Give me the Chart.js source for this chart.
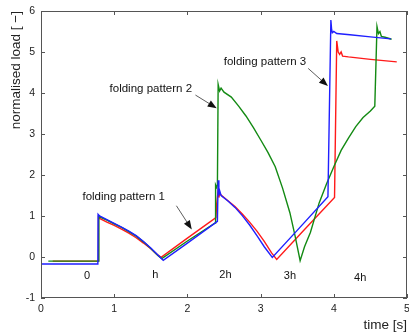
<!DOCTYPE html>
<html>
<head>
<meta charset="utf-8">
<script src="https://cdn.jsdelivr.net/npm/chart.js@4"></script>
<style>
  html, body { margin: 0; padding: 0; background: #fff; }
  canvas { display: block; }
</style>
</head>
<body>
<canvas id="chart" width="409" height="334"></canvas>
<script>
// axis ticks
const xTicks = [0, 1, 2, 3, 4, 5];
const yTicks = [-1, 0, 1, 2, 3, 4, 5, 6];

// folding pattern 3 (blue)
const blueT = [0, 0.777, 0.78, 0.8, 0.9, 1.0, 1.1, 1.2, 1.3, 1.4, 1.5, 1.6, 1.67, 2.0, 2.41, 2.42, 2.43, 2.44, 2.46, 2.55, 2.65, 2.75, 2.85, 2.95, 3.05, 3.16, 3.5, 3.92, 3.96, 3.97, 3.98, 4.0, 4.04, 4.22, 4.5, 4.78];
const blueLoad = [-0.17, -0.17, 1.04, 1.0, 0.91, 0.82, 0.73, 0.63, 0.52, 0.38, 0.22, 0.04, -0.08, 0.34, 0.87, 1.87, 1.5, 1.62, 1.5, 1.37, 1.21, 1.01, 0.78, 0.52, 0.25, -0.01, 0.65, 1.47, 5.78, 5.55, 5.47, 5.5, 5.45, 5.42, 5.37, 5.32];

// folding pattern 2 (green)
const greenT = [0.1, 0.785, 0.79, 0.8, 0.9, 1.0, 1.1, 1.2, 1.3, 1.4, 1.5, 1.6, 1.65, 2.0, 2.38, 2.385, 2.40, 2.41, 2.42, 2.44, 2.46, 2.5, 2.6, 2.7, 2.8, 2.9, 3.0, 3.1, 3.2, 3.3, 3.4, 3.47, 3.54, 3.6, 3.68, 3.8, 3.9, 4.0, 4.1, 4.2, 4.3, 4.4, 4.5, 4.56, 4.59, 4.61, 4.63, 4.65, 4.7, 4.79];
const greenLoad = [-0.1, -0.1, 1.0, 0.98, 0.9, 0.81, 0.72, 0.62, 0.51, 0.37, 0.21, 0.03, -0.04, 0.39, 0.83, 1.76, 1.7, 1.75, 4.21, 4.05, 4.12, 4.02, 3.9, 3.68, 3.44, 3.16, 2.86, 2.55, 2.2, 1.68, 1.08, 0.52, -0.09, 0.25, 0.6, 1.32, 1.78, 2.2, 2.6, 2.9, 3.18, 3.4, 3.56, 3.68, 5.62, 5.45, 5.5, 5.38, 5.36, 5.31];

// folding pattern 1 (red)
const redT = [0.16, 0.78, 0.785, 0.8, 0.9, 1.0, 1.1, 1.2, 1.3, 1.4, 1.5, 1.58, 1.64, 2.0, 2.39, 2.40, 2.42, 2.43, 2.44, 2.46, 2.55, 2.65, 2.75, 2.85, 2.95, 3.05, 3.15, 3.22, 3.6, 4.01, 4.04, 4.06, 4.08, 4.1, 4.12, 4.2, 4.5, 4.86];
const redLoad = [-0.1, -0.1, 0.97, 0.94, 0.85, 0.77, 0.68, 0.58, 0.47, 0.34, 0.2, 0.07, -0.01, 0.46, 0.96, 1.3, 1.62, 1.45, 1.56, 1.51, 1.38, 1.23, 1.05, 0.85, 0.63, 0.38, 0.1, -0.06, 0.67, 1.45, 5.27, 5.0, 4.94, 5.0, 4.9, 4.88, 4.82, 4.76];

// phase labels under the curves
const phaseLabels = ['0', 'h', '2h', '3h', '4h'];
const phaseT = [0.63, 1.56, 2.52, 3.40, 4.36];
const phaseY = [-0.47, -0.44, -0.44, -0.46, -0.52];

// annotations with arrows (data coords)
const noteText = ['folding pattern 1', 'folding pattern 2', 'folding pattern 3'];
const noteT = [1.13, 1.50, 3.06];
const noteY = [1.47, 4.09, 4.76];
const arrowFrom = [[1.85, 1.25], [2.11, 3.95], [3.65, 4.6]];
const arrowTo = [[2.06, 0.67], [2.40, 3.63], [3.92, 4.17]];

const FONT = '"Liberation Sans", Arial, Helvetica, sans-serif';

function pts(t, v) {
  return t.map((x, i) => ({ x: x, y: v[i] }));
}

// box + inward ticks, MATLAB style
const framePlugin = {
  id: 'frame',
  afterDraw(chart) {
    const { ctx, chartArea: a, scales: { x, y } } = chart;
    ctx.save();
    ctx.strokeStyle = '#555';
    ctx.lineWidth = 1;
    ctx.strokeRect(Math.round(a.left) + 0.5, Math.round(a.top) + 0.5,
      Math.round(a.right - a.left) - 1, Math.round(a.bottom - a.top) - 1);
    const len = 4;
    ctx.beginPath();
    x.ticks.forEach(t => {
      const px = Math.round(x.getPixelForValue(t.value)) + 0.5;
      ctx.moveTo(px, a.bottom); ctx.lineTo(px, a.bottom - len);
      ctx.moveTo(px, a.top); ctx.lineTo(px, a.top + len);
    });
    y.ticks.forEach(t => {
      const py = Math.round(y.getPixelForValue(t.value)) + 0.5;
      ctx.moveTo(a.left, py); ctx.lineTo(a.left + len, py);
      ctx.moveTo(a.right, py); ctx.lineTo(a.right - len, py);
    });
    ctx.stroke();
    ctx.restore();
  }
};

const notesPlugin = {
  id: 'notes',
  afterDatasetsDraw(chart) {
    const { ctx, scales: { x, y } } = chart;
    ctx.save();
    ctx.fillStyle = '#111';
    ctx.textAlign = 'center';
    ctx.textBaseline = 'middle';
    ctx.font = '11.5px ' + FONT;
    noteText.forEach((s, i) => {
      ctx.fillText(s, x.getPixelForValue(noteT[i]), y.getPixelForValue(noteY[i]));
    });
    ctx.font = '11px ' + FONT;
    phaseLabels.forEach((s, i) => {
      ctx.fillText(s, x.getPixelForValue(phaseT[i]), y.getPixelForValue(phaseY[i]));
    });
    // arrows
    arrowFrom.forEach((f, i) => {
      const x0 = x.getPixelForValue(f[0]), y0 = y.getPixelForValue(f[1]);
      const x1 = x.getPixelForValue(arrowTo[i][0]), y1 = y.getPixelForValue(arrowTo[i][1]);
      const ang = Math.atan2(y1 - y0, x1 - x0);
      const hl = 9, hw = 3.5;
      ctx.strokeStyle = '#333';
      ctx.lineWidth = 0.8;
      ctx.beginPath();
      ctx.moveTo(x0, y0);
      ctx.lineTo(x1 - hl * Math.cos(ang), y1 - hl * Math.sin(ang));
      ctx.stroke();
      ctx.beginPath();
      ctx.moveTo(x1, y1);
      ctx.lineTo(x1 - hl * Math.cos(ang) + hw * Math.sin(ang), y1 - hl * Math.sin(ang) - hw * Math.cos(ang));
      ctx.lineTo(x1 - hl * Math.cos(ang) - hw * Math.sin(ang), y1 - hl * Math.sin(ang) + hw * Math.cos(ang));
      ctx.closePath();
      ctx.fill();
    });
    ctx.restore();
  }
};

const lineStyle = { borderWidth: 1.4, pointRadius: 0, tension: 0, fill: false };

new Chart(document.getElementById('chart'), {
  type: 'line',
  data: {
    datasets: [
      { label: 'pattern 3', data: pts(blueT, blueLoad), borderColor: '#1f1fff', ...lineStyle },
      { label: 'pattern 2', data: pts(greenT, greenLoad), borderColor: '#138a13', ...lineStyle },
      { label: 'pattern 1', data: pts(redT, redLoad), borderColor: '#ff1a1a', ...lineStyle }
    ]
  },
  options: {
    responsive: false,
    devicePixelRatio: 1,
    animation: false,
    layout: { padding: { left: 0, top: 11, right: 2, bottom: 0 } },
    plugins: { legend: { display: false }, tooltip: { enabled: false } },
    scales: {
      x: {
        type: 'linear', min: 0, max: 5,
        afterBuildTicks: s => { s.ticks = xTicks.map(v => ({ value: v })); },
        afterFit: s => { s.height = 36; s.paddingLeft = 0; s.paddingRight = 0; },
        grid: { display: false, drawTicks: false },
        border: { display: false },
        ticks: { color: '#222', font: { family: FONT, size: 10.5 }, padding: 5, maxRotation: 0 },
        title: { display: true, text: 'time [s]', align: 'end', color: '#222',
          font: { family: FONT, size: 13.5 }, padding: { top: 0, bottom: 1 } }
      },
      y: {
        type: 'linear', min: -1, max: 6,
        afterBuildTicks: s => { s.ticks = yTicks.map(v => ({ value: v })); },
        afterFit: s => { s.width = 41; s.paddingTop = 0; s.paddingBottom = 0; },
        grid: { display: false, drawTicks: false },
        border: { display: false },
        ticks: { color: '#222', font: { family: FONT, size: 10.5 }, padding: 6 },
        title: { display: true, text: 'normalised load [ −]', align: 'end', color: '#222',
          font: { family: FONT, size: 13.5 }, padding: { top: 8, bottom: 0 } }
      }
    }
  },
  plugins: [framePlugin, notesPlugin]
});
</script>
</body>
</html>
